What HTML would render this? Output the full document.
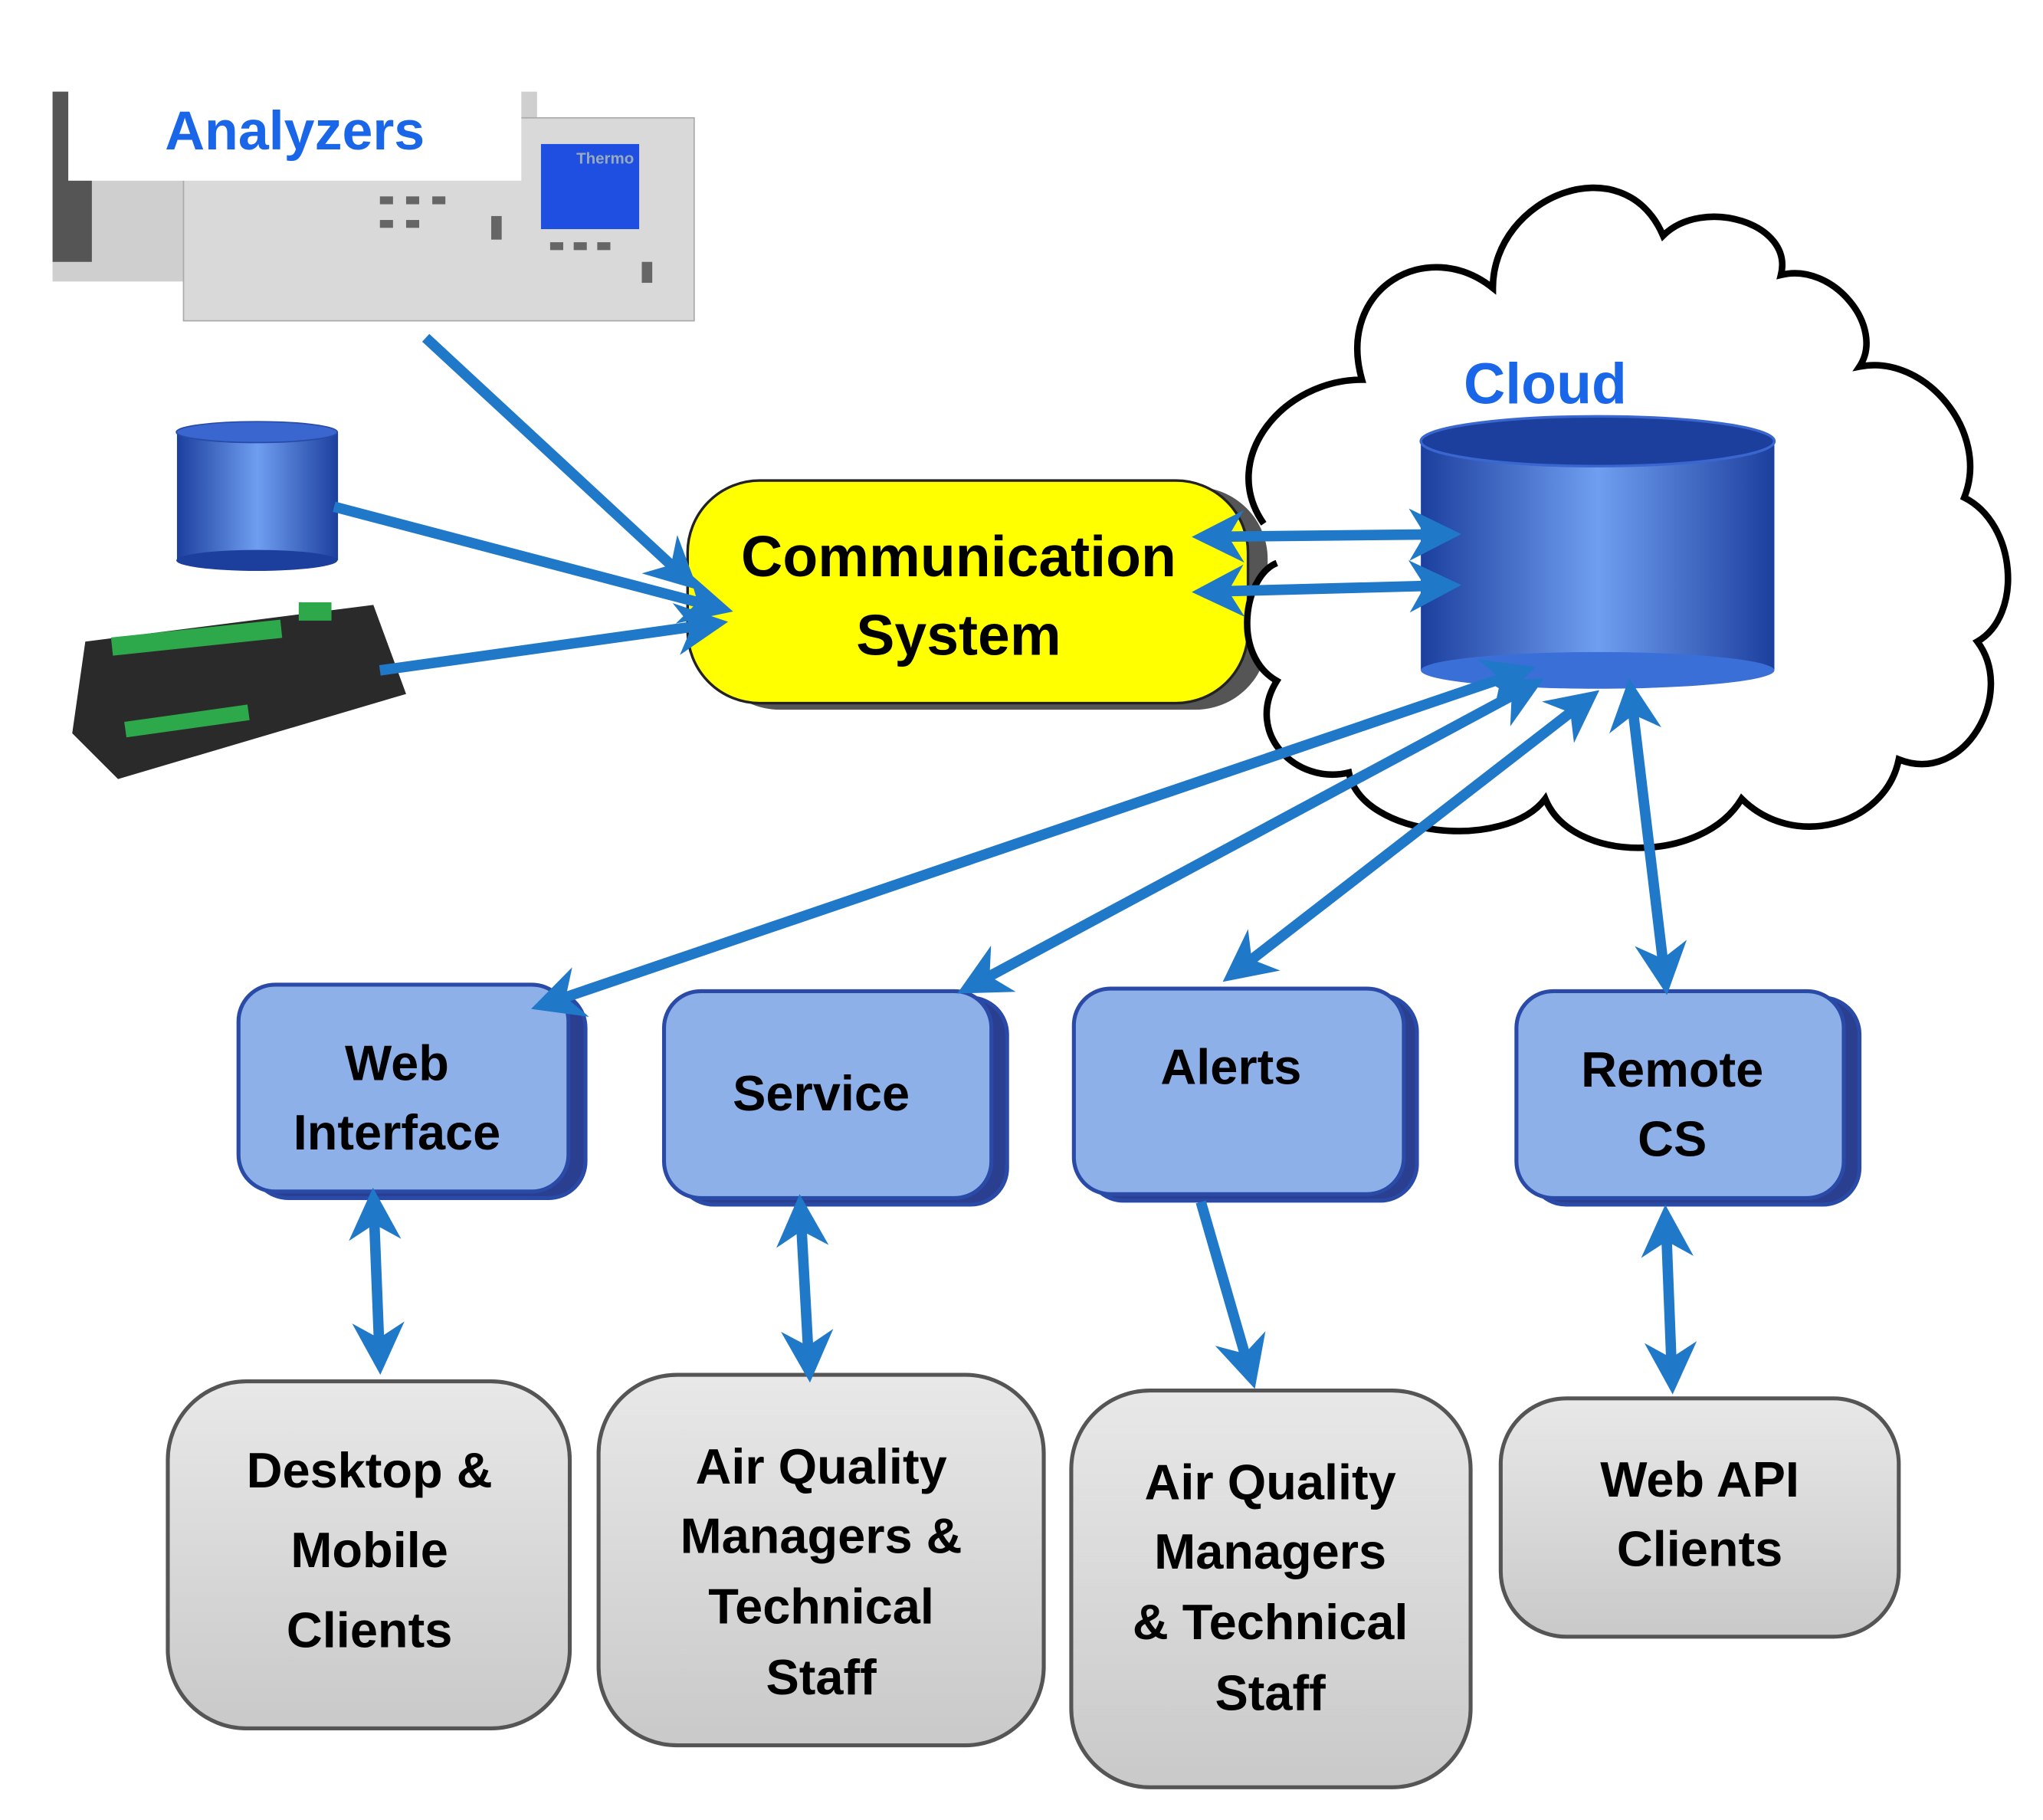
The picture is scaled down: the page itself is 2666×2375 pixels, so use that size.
<!DOCTYPE html>
<html><head><meta charset="utf-8"><style>
html,body{margin:0;padding:0;background:#fff;}
svg{display:block;}
text{font-family:"Liberation Sans","DejaVu Sans",sans-serif;font-weight:bold;}
</style></head><body>
<svg width="2666" height="2375" viewBox="0 0 1560 1390" xmlns="http://www.w3.org/2000/svg">
<defs>
<marker id="ah" viewBox="0 0 10 10" refX="8" refY="5" markerWidth="5" markerHeight="5" orient="auto-start-reverse" markerUnits="strokeWidth">
<path d="M0,0 L10,5 L0,10 L3,5 z" fill="#1f78c8"/></marker>
<linearGradient id="cyl" x1="0" x2="1" y1="0" y2="0">
<stop offset="0" stop-color="#1c3f9e"/><stop offset="0.5" stop-color="#6f9ef0"/><stop offset="1" stop-color="#1c3f9e"/></linearGradient>
<linearGradient id="box" x1="0" x2="0" y1="0" y2="1"><stop offset="0" stop-color="#e8e8e8"/><stop offset="1" stop-color="#c9c9c9"/></linearGradient>
</defs>

<!-- Analyzers -->
<rect x="40" y="70" width="370" height="145" fill="#cfcfcf"/>
<rect x="40" y="70" width="30" height="130" fill="#555"/>
<rect x="140" y="90" width="390" height="155" fill="#d9d9d9" stroke="#aaa"/>
<rect x="413" y="110" width="75" height="65" fill="#1f4fe0"/>
<text x="440" y="125" font-size="12" fill="#9ab" font-weight="normal">Thermo</text>
<g fill="#666"><rect x="420" y="185" width="10" height="6"/><rect x="438" y="185" width="10" height="6"/><rect x="456" y="185" width="10" height="6"/><rect x="490" y="200" width="8" height="16"/>
<rect x="290" y="150" width="10" height="6"/><rect x="310" y="150" width="10" height="6"/><rect x="330" y="150" width="10" height="6"/><rect x="290" y="168" width="10" height="6"/><rect x="310" y="168" width="10" height="6"/><rect x="375" y="165" width="8" height="18"/></g>
<rect x="52" y="55" width="346" height="83" fill="#fff"/>
<text x="225" y="114" font-size="42" fill="#1a66e8" text-anchor="middle" font-weight="normal">Analyzers</text>

<!-- small cylinder -->
<rect x="135" y="330" width="123" height="98" fill="url(#cyl)"/>
<ellipse cx="196" cy="428" rx="61.5" ry="8" fill="#1c3f9e"/>
<ellipse cx="196" cy="330" rx="61.5" ry="8" fill="#3a66d0" stroke="#2a4aa8"/>

<!-- datalogger -->
<path d="M65,490 L285,462 L310,530 L90,595 L55,560 z" fill="#2a2a2a"/>
<rect x="85" y="480" width="130" height="14" fill="#2da84a" transform="rotate(-6 150 487)"/>
<rect x="95" y="545" width="95" height="12" fill="#2da84a" transform="rotate(-8 140 550)"/>
<rect x="228" y="460" width="25" height="14" fill="#2da84a"/>

<!-- Communication system -->
<rect x="540" y="372" width="428" height="170" rx="55" fill="#555"/>
<rect x="525" y="367" width="428" height="170" rx="55" fill="#ffff00" stroke="#222" stroke-width="2"/>
<text x="732" y="440" font-size="44" text-anchor="middle" fill="#000">Communication</text>
<text x="732" y="500" font-size="44" text-anchor="middle" fill="#000">System</text>

<!-- Cloud -->
<path d="M965,400 C930,350 980,290 1040,290 C1020,220 1090,180 1140,220 C1140,150 1240,110 1270,180 C1300,150 1370,170 1360,210 C1400,200 1440,250 1420,280 C1470,270 1520,330 1500,380 C1540,400 1545,470 1510,490 C1540,530 1500,600 1450,580 C1440,630 1370,650 1330,610 C1300,660 1200,660 1180,610 C1150,650 1040,640 1030,590 C990,600 950,560 975,520 C940,500 950,440 975,430" fill="#fff" stroke="#000" stroke-width="5"/>
<text x="1180" y="308" font-size="44" fill="#1a66e8" text-anchor="middle">Cloud</text>
<rect x="1085" y="337" width="270" height="175" fill="url(#cyl)"/>
<ellipse cx="1220" cy="512" rx="135" ry="14" fill="#3b6fd8"/>
<ellipse cx="1220" cy="337" rx="135" ry="19" fill="#1c3f9e" stroke="#3a66d0" stroke-width="2"/>

<!-- Blue boxes -->
<g stroke="#2a4aa8" stroke-width="3">
<rect x="192" y="757" width="255" height="158" rx="28" fill="#2a3f90"/>
<rect x="182" y="752" width="252" height="158" rx="28" fill="#8eb0e8"/>
<rect x="517" y="762" width="252" height="158" rx="28" fill="#2a3f90"/>
<rect x="507" y="757" width="250" height="158" rx="28" fill="#8eb0e8"/>
<rect x="830" y="760" width="252" height="157" rx="28" fill="#2a3f90"/>
<rect x="820" y="755" width="252" height="157" rx="28" fill="#8eb0e8"/>
<rect x="1168" y="762" width="252" height="158" rx="28" fill="#2a3f90"/>
<rect x="1158" y="757" width="250" height="158" rx="28" fill="#8eb0e8"/>
</g>
<g font-size="38" fill="#000" text-anchor="middle">
<text x="303" y="825">Web</text><text x="303" y="878">Interface</text>
<text x="627" y="848">Service</text>
<text x="940" y="828">Alerts</text>
<text x="1277" y="830">Remote</text><text x="1277" y="883">CS</text>
</g>

<!-- Gray boxes -->
<g stroke="#555" stroke-width="3" fill="url(#box)">
<rect x="128" y="1055" width="307" height="265" rx="60"/>
<rect x="457" y="1050" width="340" height="283" rx="60"/>
<rect x="818" y="1062" width="305" height="303" rx="60"/>
<rect x="1146" y="1068" width="304" height="182" rx="50"/>
</g>
<g font-size="38" fill="#000" text-anchor="middle">
<text x="282" y="1136">Desktop &amp;</text><text x="282" y="1197">Mobile</text><text x="282" y="1258">Clients</text>
<text x="627" y="1133">Air Quality</text><text x="627" y="1186">Managers &amp;</text><text x="627" y="1240">Technical</text><text x="627" y="1294">Staff</text>
<text x="970" y="1145">Air Quality</text><text x="970" y="1198">Managers</text><text x="970" y="1252">&amp; Technical</text><text x="970" y="1306">Staff</text>
<text x="1298" y="1143">Web API</text><text x="1298" y="1196">Clients</text>
</g>

<!-- Arrows -->
<g stroke="#1f78c8" stroke-width="8" fill="none">
<line x1="325" y1="258" x2="527" y2="445" marker-end="url(#ah)"/>
<line x1="255" y1="387" x2="552" y2="465" marker-end="url(#ah)"/>
<line x1="290" y1="512" x2="548" y2="476" marker-end="url(#ah)"/>
<line x1="918" y1="410" x2="1108" y2="408" marker-start="url(#ah)" marker-end="url(#ah)"/>
<line x1="918" y1="452" x2="1108" y2="447" marker-start="url(#ah)" marker-end="url(#ah)"/>
<line x1="1165" y1="512" x2="413" y2="768" marker-start="url(#ah)" marker-end="url(#ah)"/>
<line x1="1172" y1="522" x2="738" y2="755" marker-start="url(#ah)" marker-end="url(#ah)"/>
<line x1="1215" y1="532" x2="940" y2="745" marker-start="url(#ah)" marker-end="url(#ah)"/>
<line x1="1245" y1="526" x2="1272" y2="752" marker-start="url(#ah)" marker-end="url(#ah)"/>
<line x1="285" y1="915" x2="290" y2="1042" marker-start="url(#ah)" marker-end="url(#ah)"/>
<line x1="611" y1="920" x2="618" y2="1048" marker-start="url(#ah)" marker-end="url(#ah)"/>
<line x1="917" y1="918" x2="956" y2="1053" marker-end="url(#ah)"/>
<line x1="1272" y1="928" x2="1277" y2="1057" marker-start="url(#ah)" marker-end="url(#ah)"/>
</g>
</svg>
</body></html>
